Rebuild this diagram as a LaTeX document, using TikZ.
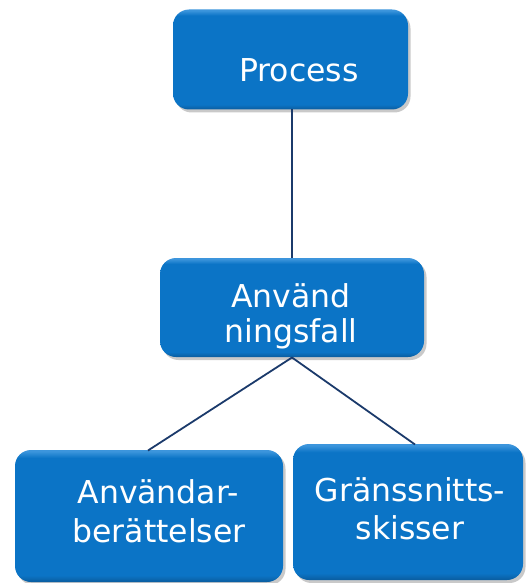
\documentclass[tikz,border=0pt]{standalone}
\usepackage{fontspec}
\setmainfont{DejaVu Sans}
\usetikzlibrary{shadows}

\definecolor{boxmain}{HTML}{0B74C6}
\definecolor{boxdark}{HTML}{0A5C9E}
\definecolor{boxlight}{HTML}{3C95DC}
\definecolor{linkcol}{HTML}{1B3A6B}

% box fill: flat blue with a lighter top rim and darker bottom rim
\pgfdeclareverticalshading{boxfill}{100bp}{%
  color(0bp)=(boxdark); color(25bp)=(boxdark); color(27.5bp)=(boxmain);
  color(72bp)=(boxmain); color(74.5bp)=(boxlight); color(100bp)=(boxlight)}

\tikzset{
  box/.style={rectangle, rounded corners=16pt, shading=boxfill, draw=none,
    inner sep=0pt, outer sep=0pt,
    drop shadow={shadow xshift=2.5pt, shadow yshift=-3pt, opacity=0.3, fill=black!70}},
  boxtext/.style={text=white, anchor=base, inner sep=0pt,
    font=\fontsize{31.5}{36}\selectfont},
  link/.style={draw=linkcol, line width=1.8pt}
}

\begin{document}
\begin{tikzpicture}[x=1pt, y=-1pt]
\useasboundingbox (0,0) rectangle (525,583);

% boxes
\node[box, minimum width=235pt, minimum height=100pt] (proc) at (290.5,59.5) {};
\node[box, minimum width=264pt, minimum height=99pt] (uc) at (292,307.5) {};
\node[box, minimum width=268pt, minimum height=132pt] (us) at (149,516) {};
\node[box, minimum width=230pt, minimum height=136pt] (ui) at (408,512) {};

% connectors
\coordinate (ucb) at (292,357.5);
\draw[link] (proc.south -| uc.north) -- (uc.north);
\draw[link] (ucb) -- (148,450.5);
\draw[link] (ucb) -- (415,444.5);

% labels
\node[boxtext] (proct) at (299,82) {Process};
\node[boxtext] (uct1) at (291,307) {Använd};
\node[boxtext] (uct2) at (291,342) {ningsfall};
\node[boxtext] (ust1) at (158,503) {Användar-};
\node[boxtext] (ust2) at (159,542) {berättelser};
\node[boxtext] (uit1) at (410,501) {Gränssnitts-};
\node[boxtext] (uit2) at (410,539) {skisser};
\end{tikzpicture}
\end{document}
